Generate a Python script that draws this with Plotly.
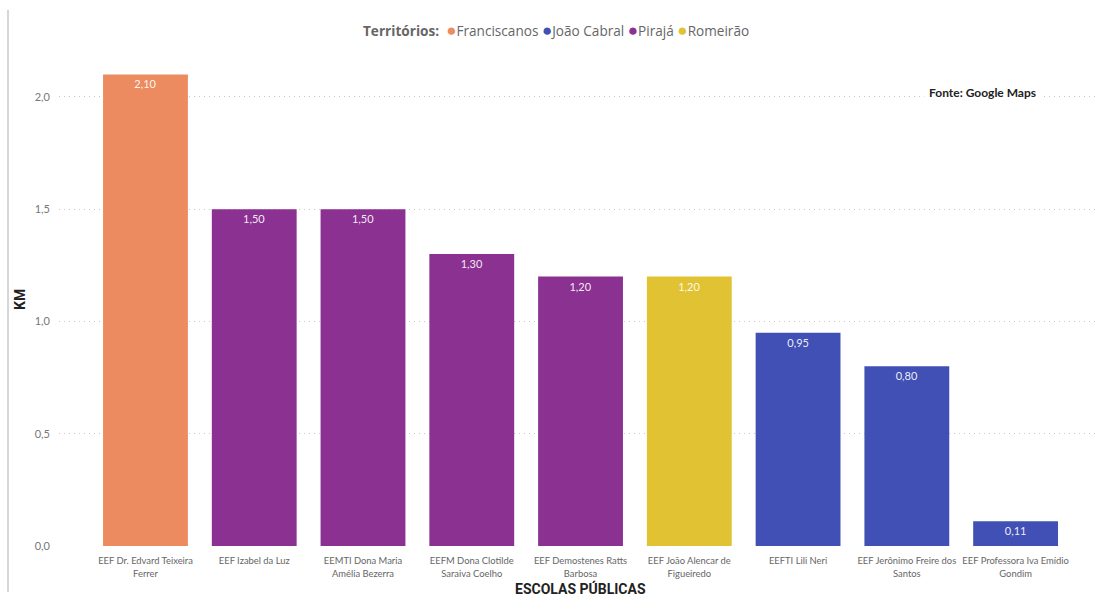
import plotly.graph_objects as go

# Schools (x categories), distance in km and territory of each school
escolas = [
    "EEF Dr. Edvard Teixeira<br>Ferrer",
    "EEF Izabel da Luz",
    "EEMTI Dona Maria<br>Amélia Bezerra",
    "EEFM Dona Clotilde<br>Saraiva Coelho",
    "EEF Demostenes Ratts<br>Barbosa",
    "EEF João Alencar de<br>Figueiredo",
    "EEFTI Lili Neri",
    "EEF Jerônimo Freire dos<br>Santos",
    "EEF Professora Iva Emídio<br>Gondim",
]
distancia_km = [2.10, 1.50, 1.50, 1.30, 1.20, 1.20, 0.95, 0.80, 0.11]
territorio = [
    "Franciscanos", "Pirajá", "Pirajá", "Pirajá", "Pirajá",
    "Romeirão", "João Cabral", "João Cabral", "João Cabral",
]

territorios = ["Franciscanos", "João Cabral", "Pirajá", "Romeirão"]
cores = {
    "Franciscanos": "#EC8B5F",
    "João Cabral": "#4150B4",
    "Pirajá": "#8A3192",
    "Romeirão": "#E0C233",
}

FONT = "Lato, Open Sans, sans-serif"
LEG_FONT = "Open Sans, sans-serif"

# plot-area geometry in pixels (for placing paper-referenced annotations)
L, R, T, B = 59, 3, 52, 51
W, H = 1098, 597
PW, PH = W - L - R, H - T - B


def px(x):
    return (x - L) / PW


def py(y):
    return (H - B - y) / PH


fig = go.Figure()

for t in territorios:
    xs = [e for e, tt in zip(escolas, territorio) if tt == t]
    ys = [v for v, tt in zip(distancia_km, territorio) if tt == t]
    fig.add_trace(go.Bar(
        x=xs, y=ys, name=t,
        marker=dict(color=cores[t], line=dict(width=0)),
        text=[f"{v:.2f}".replace(".", ",") for v in ys],
        textposition="inside", insidetextanchor="end",
        textfont=dict(color="rgba(255,255,255,0.92)", size=11, family=FONT),
        textangle=0,
        showlegend=False,
        width=0.78,
    ))

# compact legend line: bold title followed by coloured dots and names
legenda = "<b>Territórios:</b>  " + " ".join(
    f"<span style='color:{cores[t]};font-size:17px'>●</span>{t}" for t in territorios
)

fig.update_layout(
    width=W, height=H,
    margin=dict(l=L, r=R, t=T, b=B),
    paper_bgcolor="white", plot_bgcolor="white",
    barmode="overlay",
    separators=",.",
    showlegend=False,
    font=dict(family=FONT, color="#666666"),
    xaxis=dict(
        type="category", categoryorder="array", categoryarray=escolas,
        range=[-0.795, 8.73],
        showgrid=False, zeroline=False, showline=False, ticks="",
        tickfont=dict(size=9.4, color="#666666", family=FONT),
        tickangle=0, ticklabelstandoff=8,
    ),
    yaxis=dict(
        range=[0, 2.2], tickvals=[0, 0.5, 1.0, 1.5, 2.0], tickformat=".1f",
        showgrid=True, gridcolor="#c8c8c8", griddash="1px,4px", gridwidth=1,
        zeroline=False, showline=False, ticks="",
        ticklabelstandoff=8,
        tickfont=dict(size=11, color="#777777", family=FONT),
    ),
    annotations=[
        dict(text=legenda, xref="paper", yref="paper",
             x=px(556), y=py(30), showarrow=False,
             xanchor="center", yanchor="middle",
             font=dict(size=13.6, color="#666666", family=LEG_FONT)),
        dict(text="<b>ESCOLAS PÚBLICAS</b>", xref="paper", yref="paper",
             x=px(580), y=py(588), showarrow=False,
             xanchor="center", yanchor="middle",
             font=dict(size=14, color="#222222", family="Roboto, sans-serif")),
        dict(text="<b>KM</b>", xref="paper", yref="paper",
             x=px(20), y=py(300), textangle=-90, showarrow=False,
             xanchor="center", yanchor="middle",
             font=dict(size=14, color="#222222", family="Roboto, sans-serif")),
        dict(text="<b>Fonte: Google Maps</b>", xref="paper", yref="paper",
             x=px(982), y=py(93), showarrow=False,
             xanchor="center", yanchor="middle", bgcolor="white",
             borderpad=4,
             font=dict(size=12, color="#222222", family=FONT)),
    ],
    shapes=[
        dict(type="line", xref="paper", yref="paper",
             x0=px(8), x1=px(8), y0=py(592), y1=py(10),
             line=dict(color="#c8c8c8", width=1.5)),
    ],
)

fig.write_html("out.html")
